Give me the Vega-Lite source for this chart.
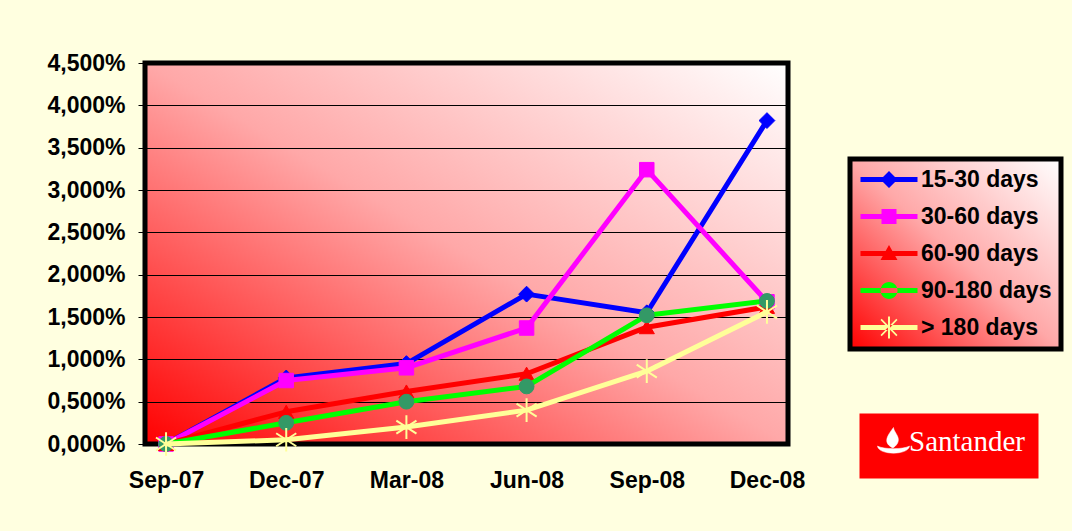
{
  "$schema": "https://vega.github.io/schema/vega-lite/v6.json",
  "autosize": {"type": "none"},
  "width": 643,
  "height": 381,
  "padding": {"left": 145, "top": 63, "right": 284, "bottom": 87},
  "background": "#FFFFE0",
  "config": {
    "view": {
      "stroke": "black",
      "strokeWidth": 5,
      "fill": {"gradient": "linear", "x1": 0, "y1": 1, "x2": 1, "y2": 0, "stops": [{"offset": 0, "color": "#FF0000"}, {"offset": 0.5, "color": "#FFA8A8"}, {"offset": 1, "color": "#FFFFFF"}]}
    },
    "legend": {"strokeWidth": 5},
    "font": "Liberation Sans"
  },
  "data": {
    "values": [
      {"date": "Sep-07", "series": "15-30 days", "value": 0},
      {"date": "Dec-07", "series": "15-30 days", "value": 0.78},
      {"date": "Mar-08", "series": "15-30 days", "value": 0.95},
      {"date": "Jun-08", "series": "15-30 days", "value": 1.77},
      {"date": "Sep-08", "series": "15-30 days", "value": 1.55},
      {"date": "Dec-08", "series": "15-30 days", "value": 3.82},
      {"date": "Sep-07", "series": "30-60 days", "value": 0},
      {"date": "Dec-07", "series": "30-60 days", "value": 0.75},
      {"date": "Mar-08", "series": "30-60 days", "value": 0.9},
      {"date": "Jun-08", "series": "30-60 days", "value": 1.37},
      {"date": "Sep-08", "series": "30-60 days", "value": 3.24},
      {"date": "Dec-08", "series": "30-60 days", "value": 1.68},
      {"date": "Sep-07", "series": "60-90 days", "value": 0},
      {"date": "Dec-07", "series": "60-90 days", "value": 0.38},
      {"date": "Mar-08", "series": "60-90 days", "value": 0.62},
      {"date": "Jun-08", "series": "60-90 days", "value": 0.83},
      {"date": "Sep-08", "series": "60-90 days", "value": 1.38},
      {"date": "Dec-08", "series": "60-90 days", "value": 1.62},
      {"date": "Sep-07", "series": "90-180 days", "value": 0},
      {"date": "Dec-07", "series": "90-180 days", "value": 0.25},
      {"date": "Mar-08", "series": "90-180 days", "value": 0.5},
      {"date": "Jun-08", "series": "90-180 days", "value": 0.68},
      {"date": "Sep-08", "series": "90-180 days", "value": 1.52},
      {"date": "Dec-08", "series": "90-180 days", "value": 1.69},
      {"date": "Sep-07", "series": "> 180 days", "value": 0},
      {"date": "Dec-07", "series": "> 180 days", "value": 0.05},
      {"date": "Mar-08", "series": "> 180 days", "value": 0.2},
      {"date": "Jun-08", "series": "> 180 days", "value": 0.4},
      {"date": "Sep-08", "series": "> 180 days", "value": 0.86},
      {"date": "Dec-08", "series": "> 180 days", "value": 1.56}
    ]
  },
  "encoding": {
    "x": {
      "field": "date", "type": "ordinal",
      "sort": ["Sep-07", "Dec-07", "Mar-08", "Jun-08", "Sep-08", "Dec-08"],
      "scale": {"type": "point", "padding": 0.175},
      "axis": {"title": null, "labelAngle": 0, "labelFont": "Liberation Sans", "labelFontWeight": "bold", "labelFontSize": 23, "labelColor": "black", "ticks": false, "domain": false, "grid": false, "labelPadding": 25}
    },
    "y": {
      "field": "value", "type": "quantitative",
      "scale": {"domain": [0, 4.5], "nice": false, "zero": true},
      "axis": {"title": null, "values": [0, 0.5, 1, 1.5, 2, 2.5, 3, 3.5, 4, 4.5], "labelExpr": "replace(format(datum.value, '.3f'), '.', ',') + '%'", "labelFont": "Liberation Sans", "labelFontWeight": "bold", "labelFontSize": 23, "labelColor": "black", "grid": true, "gridColor": "black", "gridWidth": 1, "gridOpacity": 1, "tickColor": "black", "tickSize": 7, "domain": false, "labelPadding": 13}
    }
  },
  "layer": [
    {
      "mark": {"type": "point", "filled": true, "opacity": 0},
      "encoding": {
        "color": {
          "field": "series", "type": "nominal",
          "scale": {"domain": ["15-30 days", "30-60 days", "60-90 days", "90-180 days", "> 180 days"], "range": ["#0000FF", "#FF00FF", "#FF0000", "#00FF00", "#FFFF99"]},
          "legend": {
            "title": null, "orient": "none", "legendX": 705, "legendY": 96, "direction": "vertical",
            "labelFont": "Liberation Sans", "labelFontWeight": "bold", "labelFontSize": 23, "labelColor": "black",
            "symbolSize": 400, "symbolOpacity": 1, "symbolStrokeWidth": 0, "labelOffset": 39, "rowPadding": 13, "padding": 9,
            "strokeColor": "black",
            "fillColor": {"value": {"gradient": "linear", "x1": 0, "y1": 1, "x2": 1, "y2": 0, "stops": [{"offset": 0, "color": "#FF0000"}, {"offset": 0.5, "color": "#FFA8A8"}, {"offset": 1, "color": "#FFFFFF"}]}}
          }
        },
        "shape": {
          "field": "series", "type": "nominal",
          "scale": {"domain": ["15-30 days", "30-60 days", "60-90 days", "90-180 days", "> 180 days"], "range": [
            "M-1,-0.25H4.7V0.25H-1Z M1.85,-0.85L2.7,0L1.85,0.85L1,0Z",
            "M-1,-0.25H4.7V0.25H-1Z M1.1,-0.75H2.6V0.75H1.1Z",
            "M-1,-0.25H4.7V0.25H-1Z M1.85,-0.85L2.7,0.65H1Z",
            "M-1,-0.25H4.7V0.25H-1Z M1,0A0.85,0.85,0,1,0,2.7,0A0.85,0.85,0,1,0,1,0Z",
            "M-1,-0.25H4.7V0.25H-1Z M1.75,-1.1H1.95V1.1H1.75Z M1,-0.75L1.12,-0.87L2.7,0.75L2.58,0.87Z M1,0.75L1.12,0.87L2.7,-0.75L2.58,-0.87Z"
          ]},
          "legend": {
            "title": null, "orient": "none", "legendX": 705, "legendY": 96, "direction": "vertical",
            "labelFont": "Liberation Sans", "labelFontWeight": "bold", "labelFontSize": 23, "labelColor": "black",
            "symbolSize": 400, "symbolOpacity": 1, "symbolStrokeWidth": 0, "labelOffset": 39, "rowPadding": 13, "padding": 9,
            "strokeColor": "black",
            "fillColor": {"value": {"gradient": "linear", "x1": 0, "y1": 1, "x2": 1, "y2": 0, "stops": [{"offset": 0, "color": "#FF0000"}, {"offset": 0.5, "color": "#FFA8A8"}, {"offset": 1, "color": "#FFFFFF"}]}}
          }
        },
        "strokeDash": {
          "datum": "Santander",
          "scale": {"range": [[1, 0]]},
          "legend": {
            "title": null, "orient": "none", "legendX": 717, "legendY": 353,
            "labelFont": "Liberation Serif", "labelFontWeight": "normal", "labelFontSize": 29, "labelColor": "white",
            "symbolType": "M-1,0.45C-0.9,1.4 2.1,1.4 2.2,0.45C1.6,0.8 -0.4,0.8 -1,0.45Z M0.55,0.65C-0.6,0.1 0.1,-0.7 0.6,-1.4C0.65,-0.8 1.7,-0.2 0.55,0.65Z M0.5,-2.25L0.5,-2.25 M0.5,2.25L0.5,2.25",
            "symbolFillColor": "white", "symbolStrokeColor": "white", "symbolStrokeWidth": 0.5, "symbolOpacity": 1,
            "symbolSize": 400, "labelOffset": 7, "padding": 11,
            "strokeColor": "#FF0000", "fillColor": "#FF0000"
          }
        }
      }
    },
    {
      "transform": [{"filter": "datum.series === '15-30 days'"}],
      "mark": {"type": "line", "stroke": "#0000FF", "strokeWidth": 5, "strokeCap": "round", "strokeJoin": "round"},
      "encoding": {}
    },
    {
      "transform": [{"filter": "datum.series === '15-30 days'"}],
      "mark": {"type": "point", "shape": "diamond", "filled": true, "fill": "#0000FF", "stroke": "#0000FF", "strokeWidth": 1, "size": 250, "opacity": 1}
    },
    {
      "transform": [{"filter": "datum.series === '30-60 days'"}],
      "mark": {"type": "line", "stroke": "#FF00FF", "strokeWidth": 5, "strokeCap": "round", "strokeJoin": "round"},
      "encoding": {}
    },
    {
      "transform": [{"filter": "datum.series === '30-60 days'"}],
      "mark": {"type": "point", "shape": "square", "filled": true, "fill": "#FF00FF", "stroke": "#FF00FF", "strokeWidth": 1, "size": 210, "opacity": 1}
    },
    {
      "transform": [{"filter": "datum.series === '60-90 days'"}],
      "mark": {"type": "line", "stroke": "#FF0000", "strokeWidth": 5, "strokeCap": "round", "strokeJoin": "round"},
      "encoding": {}
    },
    {
      "transform": [{"filter": "datum.series === '60-90 days'"}],
      "mark": {"type": "point", "shape": "triangle-up", "filled": true, "fill": "#FF0000", "stroke": "#FF0000", "strokeWidth": 1, "size": 230, "opacity": 1}
    },
    {
      "transform": [{"filter": "datum.series === '90-180 days'"}],
      "mark": {"type": "line", "stroke": "#00FF00", "strokeWidth": 5, "strokeCap": "round", "strokeJoin": "round"},
      "encoding": {}
    },
    {
      "transform": [{"filter": "datum.series === '90-180 days'"}],
      "mark": {"type": "point", "shape": "circle", "filled": true, "fill": "#339966", "stroke": "#339966", "strokeWidth": 1, "size": 220, "opacity": 1}
    },
    {
      "transform": [{"filter": "datum.series === '> 180 days'"}],
      "mark": {"type": "line", "stroke": "#FFFF99", "strokeWidth": 5, "strokeCap": "round", "strokeJoin": "round"},
      "encoding": {}
    },
    {
      "transform": [{"filter": "datum.series === '> 180 days'"}],
      "mark": {"type": "point", "shape": "M0,-1L0,1M-0.85,-0.55L0.85,0.55M-0.85,0.55L0.85,-0.55", "filled": false, "stroke": "#FFFF99", "strokeWidth": 2, "size": 560, "opacity": 1}
    }
  ]
}
